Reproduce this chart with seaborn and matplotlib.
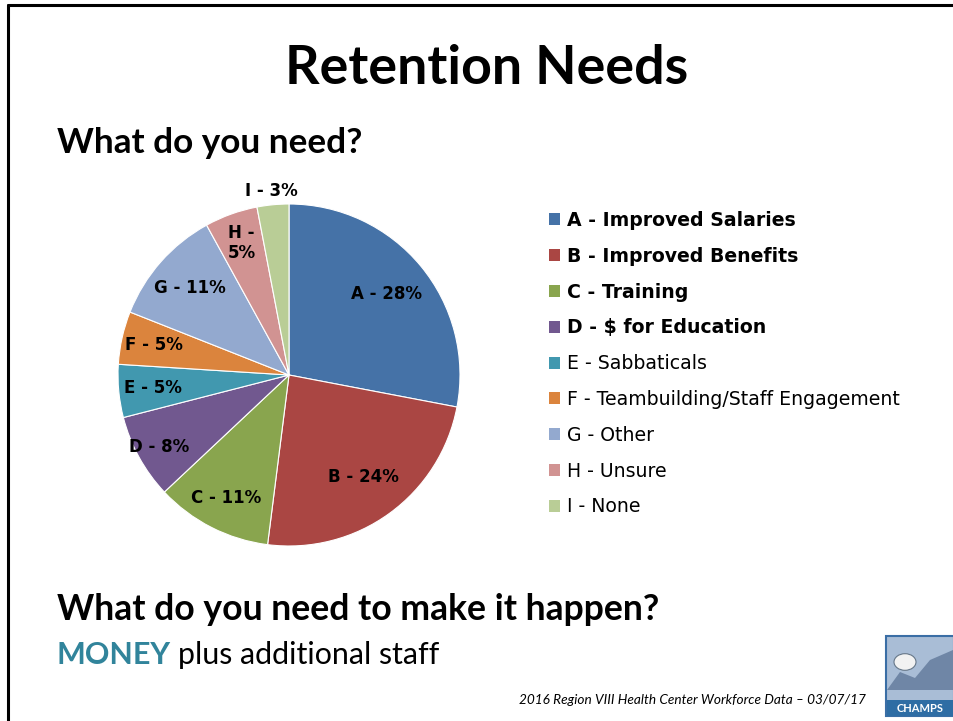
import numpy as np
import matplotlib
matplotlib.use("Agg")
import matplotlib.pyplot as plt
import seaborn as sns
from matplotlib.patches import Rectangle, Circle, Polygon
from matplotlib.lines import Line2D

# survey answers: "What do you need?"
codes = ["A", "B", "C", "D", "E", "F", "G", "H", "I"]
names = ["Improved Salaries", "Improved Benefits", "Training", r"\$ for Education",
         "Sabbaticals", "Teambuilding/Staff Engagement", "Other", "Unsure", "None"]
shares = [28, 24, 11, 8, 5, 5, 11, 5, 3]
bold_items = ["A", "B", "C", "D"]

colors = ["#4572A7", "#AA4643", "#89A54E", "#71588F", "#4198AF",
          "#DB843D", "#93A9CF", "#D19392", "#B9CD96"]

# label placement (fraction of radius) per slice
label_dist = [0.74, 0.74, 0.81, 0.87, 0.80, 0.81, 0.77, 0.82, 1.08]

sns.set_theme(style="white")
plt.rcParams["font.family"] = ["DejaVu Sans"]
plt.rcParams["text.color"] = "black"

W, H = 954, 721
fig = plt.figure(figsize=(W / 100, H / 100), dpi=100)
fig.patch.set_facecolor("white")

def fx(px):
    return px / W

def fy(py):
    return 1 - py / H

# pie axes: center (289, 375), radius 171 px
half = 171 * 1.05
ax = fig.add_axes([fx(289 - half), fy(375 + half), 2 * half / W, 2 * half / H])
wedges, _ = ax.pie(shares, colors=colors, startangle=90, counterclock=False,
                   wedgeprops=dict(edgecolor="white", linewidth=0.8))
ax.set_xlim(-1.05, 1.05)
ax.set_ylim(-1.05, 1.05)
ax.set_aspect("equal")
ax.axis("off")

for w, c, s, d in zip(wedges, codes, shares, label_dist):
    mid = np.deg2rad((w.theta1 + w.theta2) / 2)
    txt = f"{c} - {s}%"
    if c == "H":
        txt = f"{c} -\n{s}%"
    ax.text(d * np.cos(mid), d * np.sin(mid), txt, ha="center", va="center",
            fontsize=12, fontweight="bold", color="black", linespacing=1.2)

labels = [f"{c} - {n}" for c, n in zip(codes, names)]
leg = ax.legend(wedges, labels, loc="upper left", frameon=False,
                bbox_to_anchor=(fx(549), fy(211)), bbox_transform=fig.transFigure,
                fontsize=13.6, handlelength=0.6, handleheight=0.6,
                handletextpad=0.35, labelspacing=0.89, borderpad=0, borderaxespad=0)
for t, c in zip(leg.get_texts(), codes):
    t.set_color("black")
    if c in bold_items:
        t.set_fontweight("bold")
for h in leg.legend_handles:
    h.set_edgecolor("none")

# slide text
slide_font = ["Lato", "DejaVu Sans"]
fig.text(fx(487), fy(68), "Retention Needs", ha="center", va="center",
         fontsize=38.7, fontweight="bold", family=slide_font)
fig.text(fx(57), fy(143), "What do you need?", ha="left", va="center",
         fontsize=25.3, fontweight="bold", family=slide_font)
fig.text(fx(57), fy(609), "What do you need to make it happen?", ha="left", va="center",
         fontsize=25.6, fontweight="bold", family=slide_font)
money = fig.text(fx(57), fy(655), "MONEY", ha="left", va="center",
                 fontsize=21.9, fontweight="bold", color="#31849B", family=slide_font)
fig.canvas.draw()
bb = money.get_window_extent()
fig.text((bb.x1 + 7) / W, fy(655), "plus additional staff", ha="left", va="center",
         fontsize=21.9, family=slide_font)
fig.text(fx(866), fy(700), "2016 Region VIII Health Center Workforce Data \u2013 03/07/17",
         ha="right", va="center", fontsize=9.8, style="italic", family=slide_font)

# slide border (top and left)
fig.add_artist(Line2D([fx(8), 1], [fy(5), fy(5)], color="black", lw=2.2))
fig.add_artist(Line2D([fx(8), fx(8)], [fy(5), 0], color="black", lw=2.2))

# CHAMPS logo, rough
lx0, ly0, lx1, ly1 = 886, 636, 954, 716
fig.add_artist(Rectangle((fx(lx0), fy(ly1)), (lx1 - lx0) / W, (ly1 - ly0) / H,
                         facecolor="#A9BDD6", edgecolor="#3A6EA5", lw=1.5,
                         transform=fig.transFigure))
fig.add_artist(Circle((fx(905), fy(662)), 11 / W, facecolor="#F2F2F2", edgecolor="#667788",
                      lw=0.8, transform=fig.transFigure))
fig.add_artist(Polygon([(fx(887), fy(690)), (fx(900), fy(672)), (fx(915), fy(678)),
                        (fx(930), fy(660)), (fx(953), fy(650)), (fx(953), fy(690))],
                       closed=True, facecolor="#6F86A6", edgecolor="none",
                       transform=fig.transFigure))
fig.add_artist(Rectangle((fx(887), fy(716)), 66 / W, 16 / H, facecolor="#2E6DA4",
                         edgecolor="none", transform=fig.transFigure))
fig.text(fx(920), fy(708), "CHAMPS", ha="center", va="center", fontsize=8,
         fontweight="bold", color="white", family=slide_font)

fig.savefig("out.png", dpi=100, facecolor="white")
